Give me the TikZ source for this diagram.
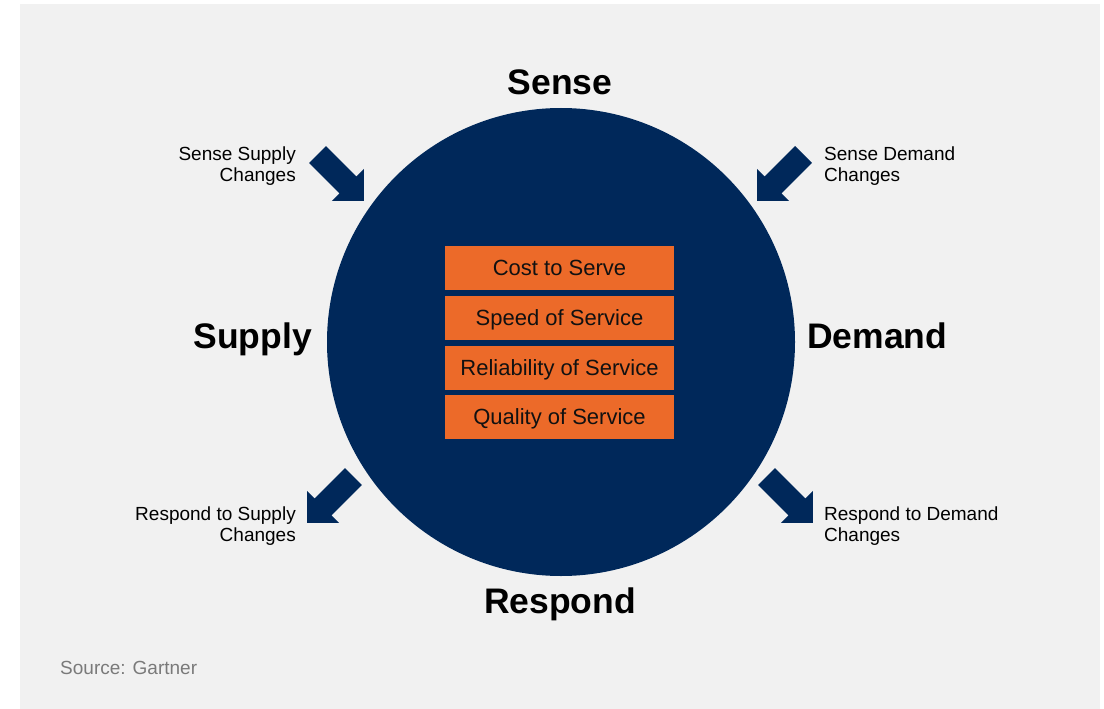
\documentclass[tikz,border=0pt]{standalone}
\usepackage{fontspec}
\setmainfont{Liberation Sans}
\definecolor{navy}{HTML}{00285A}
\definecolor{tangerine}{HTML}{EC6A29}
\definecolor{panel}{HTML}{F1F1F1}
\definecolor{ink}{HTML}{111111}
\definecolor{note}{HTML}{7A7A7A}
\tikzset{
  hub/.style={circle, fill=navy, minimum size=468pt, inner sep=0pt},
  metric/.style={fill=tangerine, text=ink, minimum width=229pt, minimum height=44pt,
    inner sep=0pt, text height=15.5pt, text depth=0pt,
    font=\fontsize{22}{24}\selectfont},
  phase/.style={inner sep=0pt, font=\bfseries\fontsize{35.5}{40}\selectfont},
  cue/.style={inner sep=0pt, font=\fontsize{19}{21}\selectfont},
  blockarrow/.pic={
    \fill[navy] (0,-12) -- (43,-12) -- (43,-22.6) -- (65.6,0) -- (43,22.6)
      -- (43,12) -- (0,12) -- cycle;
  }
}
\begin{document}
\begin{tikzpicture}[x=1pt,y=-1pt]
\useasboundingbox (0,0) rectangle (1104,709);
\fill[panel] (20,4) rectangle (1100,709);

% central circle with the four service metrics
\node[hub] (hub) at (561,342) {};
\node[metric] (cost) at (559.5,268) {Cost to Serve};
\node[metric] (speed) at (559.5,318) {Speed of Service};
\node[metric] (reliab) at (559.5,368) {Reliability of Service};
\node[metric] (quality) at (559.5,417) {Quality of Service};

% phase labels around the circle
\node[phase, anchor=base] (sense) at (560,95) {Sense};
\node[phase, anchor=base] (respond) at (560,613) {Respond};
\node[phase, anchor=base east] (supply) at (312,348) {Supply};
\node[phase, anchor=base west] (demand) at (807,348) {Demand};

% block arrows: sensing points inwards, responding points outwards
\pic[rotate=-45] at (317.5,154.5) {blockarrow};
\pic[rotate=-135] at (803.5,154.5) {blockarrow};
\pic[rotate=-135] at (353.5,476.5) {blockarrow};
\pic[rotate=-45] at (766.5,476.5) {blockarrow};

% arrow captions (anchored on the baseline of their last line)
\node[cue, align=right, anchor=base east] (ssc) at (296,181) {Sense Supply\\Changes};
\node[cue, align=left, anchor=base west] (sdc) at (824,181) {Sense Demand\\Changes};
\node[cue, align=right, anchor=base east] (rsc) at (296,541) {Respond to Supply\\Changes};
\node[cue, align=left, anchor=base west] (rdc) at (824,541) {Respond to Demand\\Changes};

\node[inner sep=0pt, anchor=base west, text=note, font=\fontsize{19}{22}\selectfont]
  (source) at (60,674) {Source: Gartner};
\end{tikzpicture}
\end{document}
